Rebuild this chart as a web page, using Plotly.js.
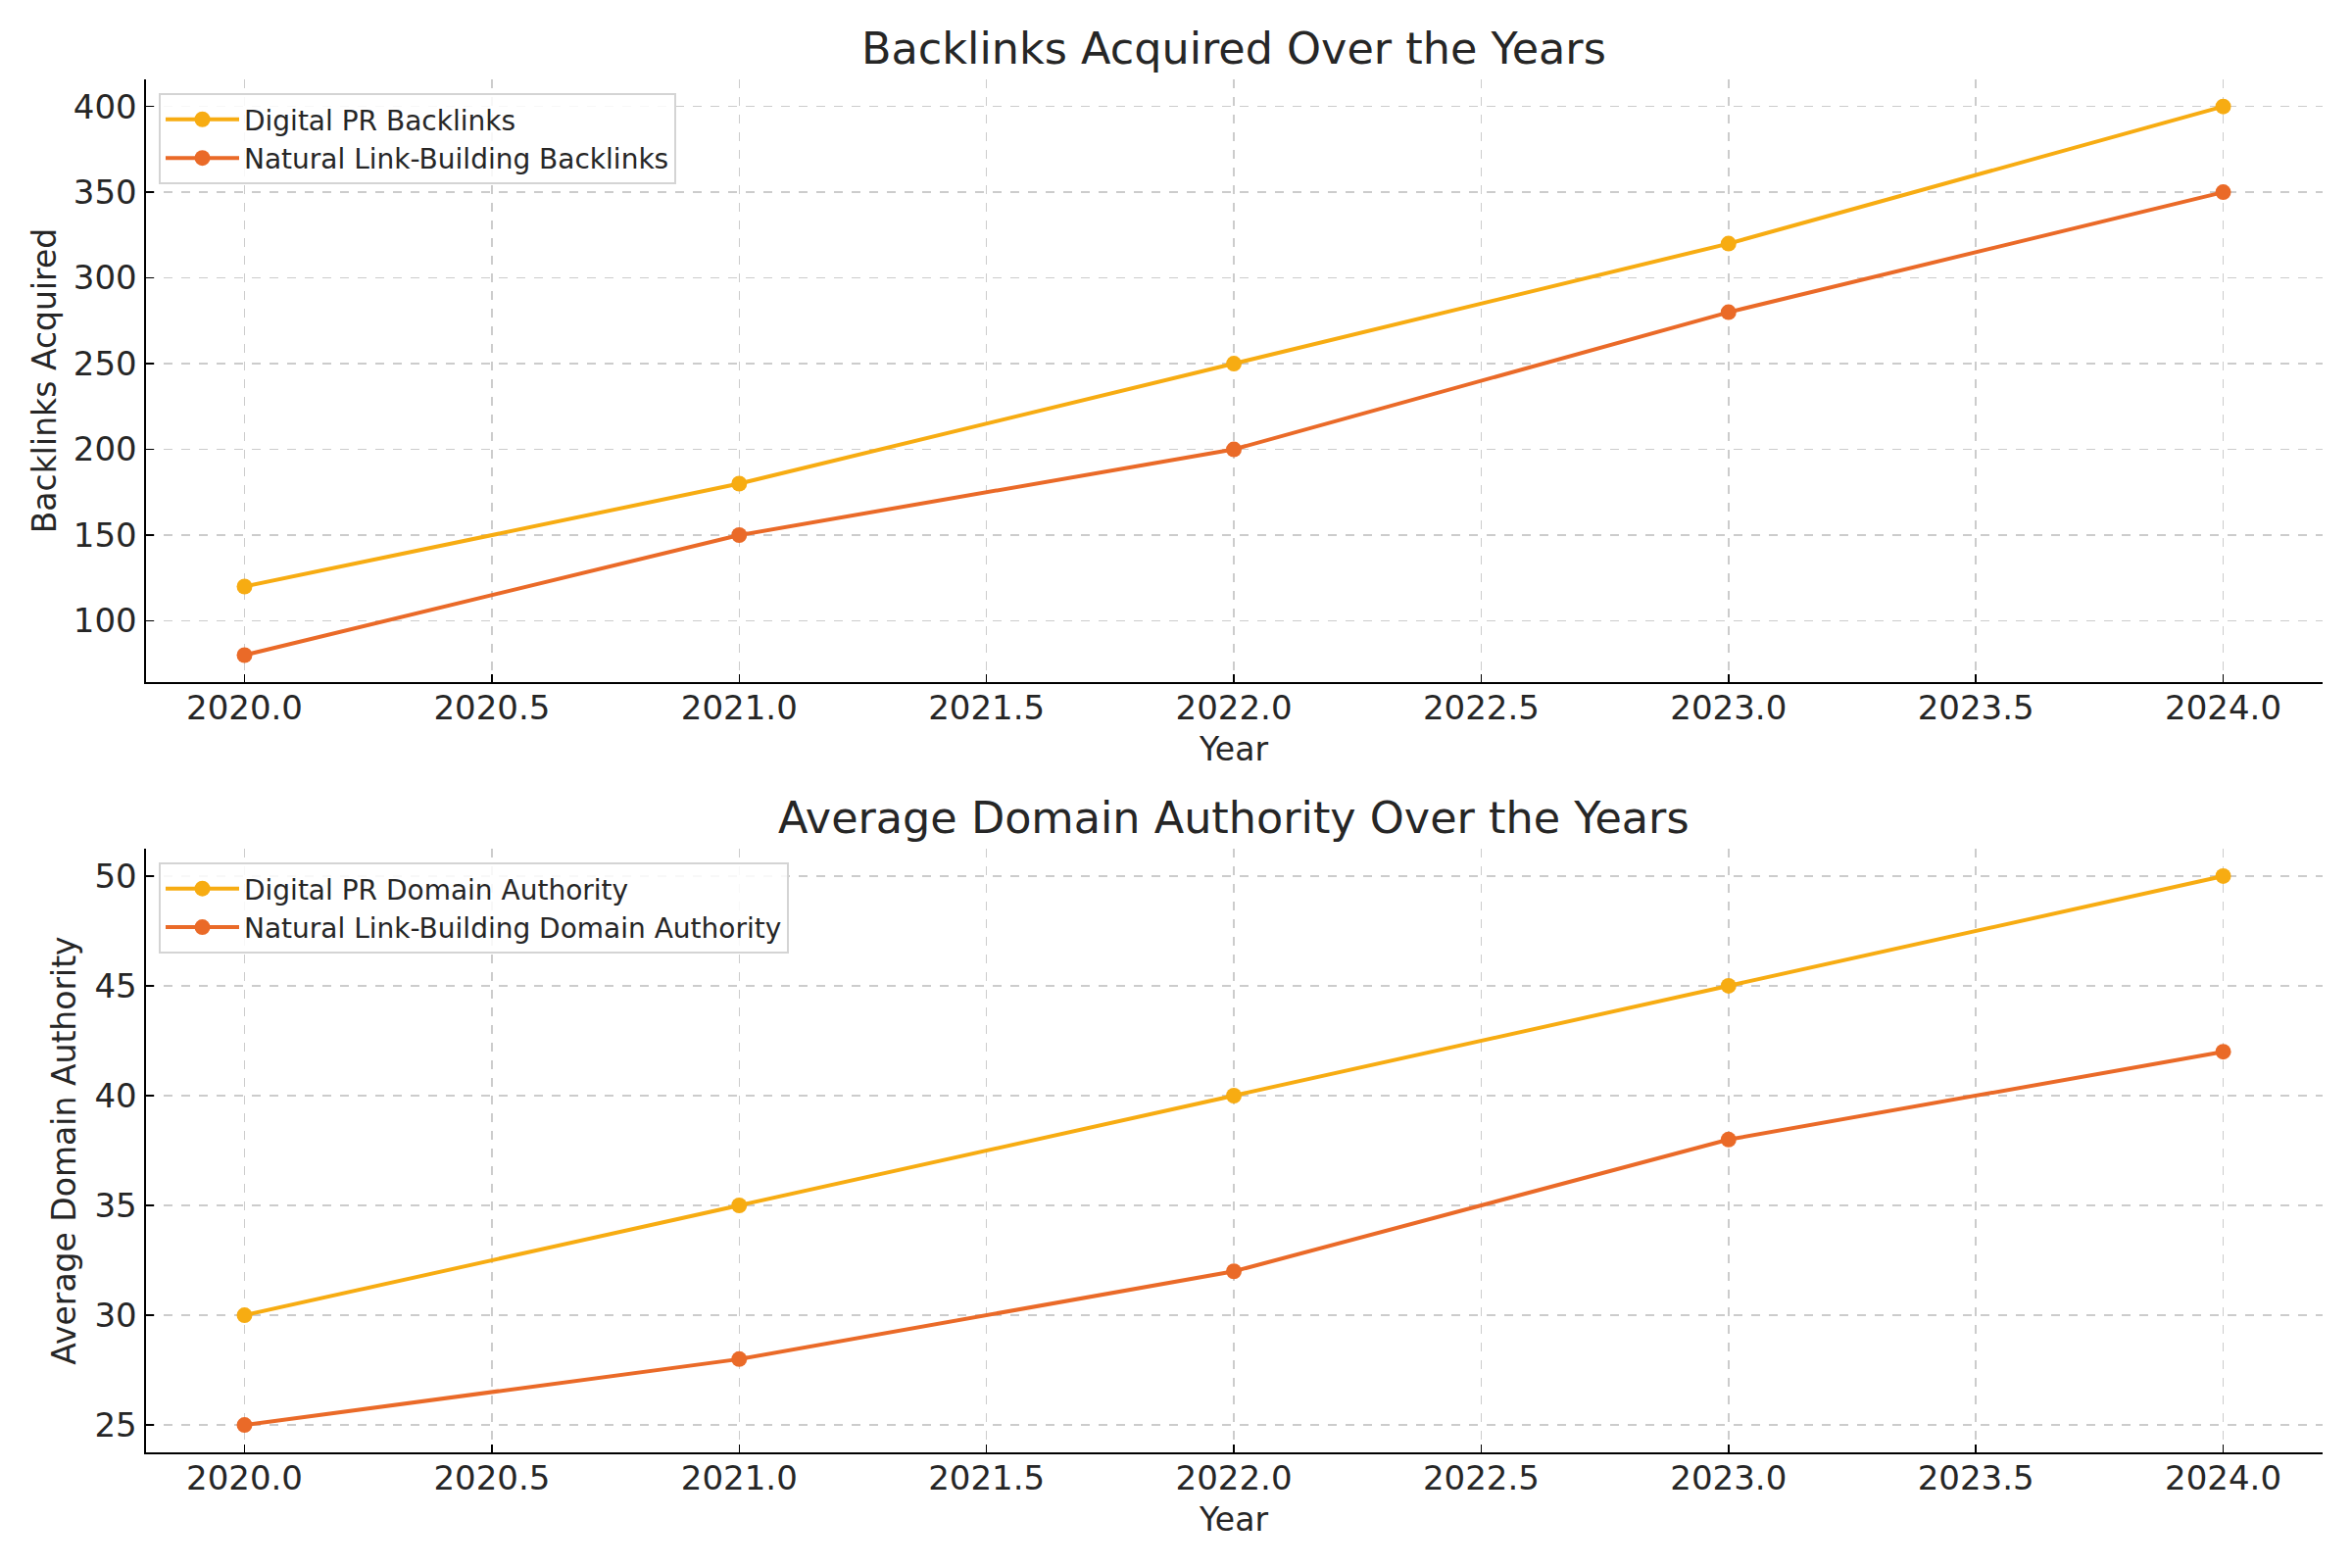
<!DOCTYPE html>
<html>
<head>
<meta charset="utf-8">
<script src="https://cdn.plot.ly/plotly-3.0.1.min.js"></script>
<style>html,body{margin:0;padding:0;background:#fff;}#chart{width:2400px;height:1600px;}</style>
</head>
<body>
<div id="chart"></div>
<script>
const years = [2020, 2021, 2022, 2023, 2024];
const prBacklinks = [120, 180, 250, 320, 400];
const naturalBacklinks = [80, 150, 200, 280, 350];
const prDA = [30, 35, 40, 45, 50];
const naturalDA = [25, 28, 32, 38, 42];

const seriesNames = {
  prBack: 'Digital PR Backlinks',
  natBack: 'Natural Link-Building Backlinks',
  prDA: 'Digital PR Domain Authority',
  natDA: 'Natural Link-Building Domain Authority'
};
const titles = {
  top: 'Backlinks Acquired Over the Years',
  bottom: 'Average Domain Authority Over the Years',
  xTitle: 'Year',
  yTop: 'Backlinks Acquired',
  yBottom: 'Average Domain Authority'
};

const C_PR = '#F7AC12';
const C_NAT = '#EA6A28';
const FONT = 'DejaVu Sans, sans-serif';
const TXT = '#262626';

function tr(x, y, name, color, xa, ya, lg) {
  return {
    x: x, y: y, name: name, type: 'scatter', mode: 'lines+markers',
    line: {color: color, width: 4},
    marker: {color: color, size: 16},
    xaxis: xa, yaxis: ya, legend: lg
  };
}

const data = [
  tr(years, prBacklinks, seriesNames.prBack, C_PR, 'x', 'y', 'legend'),
  tr(years, naturalBacklinks, seriesNames.natBack, C_NAT, 'x', 'y', 'legend'),
  tr(years, prDA, seriesNames.prDA, C_PR, 'x2', 'y2', 'legend2'),
  tr(years, naturalDA, seriesNames.natDA, C_NAT, 'x2', 'y2', 'legend2')
];

function xax(anchor) {
  return {
    domain: [0.0619, 0.9873], anchor: anchor, range: [2019.8, 2024.2],
    dtick: 0.5, tick0: 2020, tickformat: '.1f',
    showline: true, linecolor: '#000', linewidth: 2, mirror: false,
    ticks: 'inside', ticklen: 8, tickwidth: 1.5, tickcolor: '#000',
    showgrid: true, gridcolor: '#cccccc', gridwidth: 1.5, griddash: 'dash',
    zeroline: false, ticklabelstandoff: -5,
    tickfont: {family: FONT, size: 34, color: TXT},
    title: {text: titles.xTitle, font: {family: FONT, size: 33, color: TXT}, standoff: 12}
  };
}
function yax(dom, anchor, range, dtick, title, standoff) {
  return {
    domain: dom, anchor: anchor, range: range, dtick: dtick,
    showline: true, linecolor: '#000', linewidth: 2, mirror: false,
    ticks: 'inside', ticklen: 8, tickwidth: 1.5, tickcolor: '#000',
    showgrid: true, gridcolor: '#cccccc', gridwidth: 1.5, griddash: 'dash',
    zeroline: false,
    tickfont: {family: FONT, size: 34, color: TXT},
    title: {text: title, font: {family: FONT, size: 33, color: TXT}, standoff: standoff}
  };
}

const legendBase = {
  xanchor: 'left', yanchor: 'top',
  bgcolor: 'rgba(255,255,255,0.85)', bordercolor: '#d4d4d4', borderwidth: 2,
  font: {family: FONT, size: 28, color: TXT}, itemwidth: 75, tracegroupgap: 0
};

const layout = {
  width: 2400, height: 1600,
  margin: {l: 0, r: 0, t: 0, b: 0},
  paper_bgcolor: '#fff', plot_bgcolor: '#fff',
  font: {family: FONT, color: TXT},
  showlegend: true,
  xaxis: xax('y'),
  yaxis: yax([0.5647, 0.9496], 'x', [64, 416], 50, titles.yTop, 7),
  xaxis2: xax('y2'),
  yaxis2: yax([0.0737, 0.4588], 'x2', [23.75, 51.25], 5, titles.yBottom, 9),
  legend: Object.assign({}, legendBase, {x: 0.0675, y: 0.9406}),
  legend2: Object.assign({}, legendBase, {x: 0.0675, y: 0.45}),
  annotations: [
    {text: titles.top, xref: 'paper', yref: 'paper', x: 0.5245, y: 1 - 49/1600,
     xanchor: 'center', yanchor: 'middle', showarrow: false,
     font: {family: FONT, size: 44.5, color: TXT}},
    {text: titles.bottom, xref: 'paper', yref: 'paper', x: 0.5245, y: 1 - 834/1600,
     xanchor: 'center', yanchor: 'middle', showarrow: false,
     font: {family: FONT, size: 44.5, color: TXT}}
  ]
};

Plotly.newPlot('chart', data, layout, {displayModeBar: false, staticPlot: true});
</script>
</body>
</html>
